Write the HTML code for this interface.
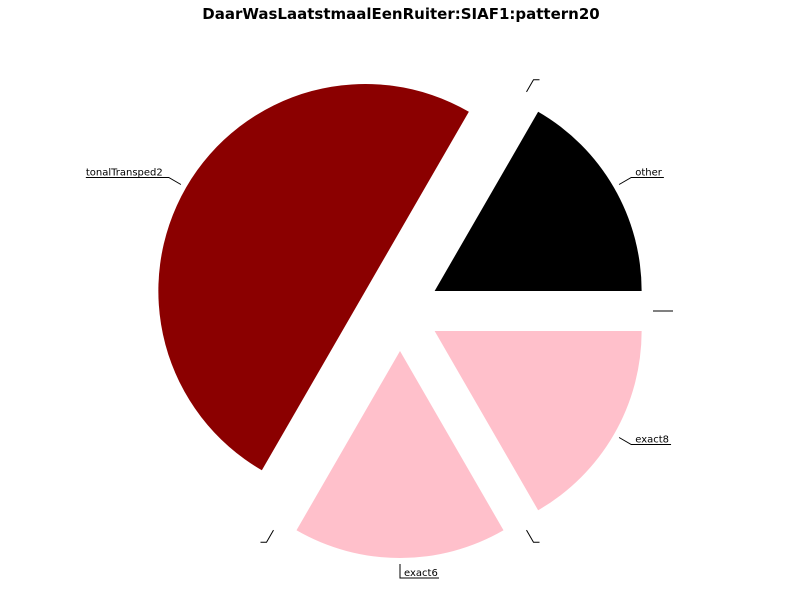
<!DOCTYPE html>
<html><head><meta charset="utf-8">
<style>
html,body{margin:0;padding:0;background:#fff;}
svg text{font-family:"DejaVu Sans","Liberation Sans",sans-serif;}
</style></head>
<body>
<svg id="chart" width="800" height="600" xmlns="http://www.w3.org/2000/svg">
<text x="401" y="19" text-anchor="middle" font-size="15" font-weight="bold">DaarWasLaatstmaalEenRuiter:SIAF1:pattern20</text>
<g id="slices"></g>
<g id="labels"></g>
</svg>
<script>
const sliceLabels = ["other", "", "tonalTransped2", "", "exact6", "", "exact8", ""];
const sliceValues = [1, 0, 3, 0, 1, 0, 1, 0];
const sliceColors = ["#000000", "#000000", "#8b0000", "#000000", "#ffc0cb", "#000000", "#ffc0cb", "#000000"];
const cx = 400, cy = 311, R = 207, EXPLODE = 40;
const NS = "http://www.w3.org/2000/svg";
const gS = document.getElementById("slices"), gL = document.getElementById("labels");
const total = sliceValues.reduce((a, b) => a + b, 0);
function pt(ox, oy, r, a) { return [ox + r * Math.cos(a), oy - r * Math.sin(a)]; }
let start = 0;
sliceValues.forEach((v, i) => {
  const sweep = v / total * 2 * Math.PI;
  const mid = start + sweep / 2;
  const ox = cx + EXPLODE * Math.cos(mid), oy = cy - EXPLODE * Math.sin(mid);
  if (v > 0) {
    const p1 = pt(ox, oy, R, start), p2 = pt(ox, oy, R, start + sweep);
    const large = sweep > Math.PI ? 1 : 0;
    const path = document.createElementNS(NS, "path");
    path.setAttribute("d", `M${ox},${oy} L${p1[0]},${p1[1]} A${R},${R} 0 ${large} 0 ${p2[0]},${p2[1]} Z`);
    path.setAttribute("fill", sliceColors[i]);
    
    
    gS.appendChild(path);
  }
  const a = pt(cx, cy, 253, mid), b = pt(cx, cy, 267, mid);
  const right = Math.cos(mid) > 1e-6 || Math.abs(mid - 1.5 * Math.PI) < 1e-6;
  let tw = 6;
  let t = null;
  if (sliceLabels[i]) {
    t = document.createElementNS(NS, "text");
    t.setAttribute("y", b[1] - 2);
    t.setAttribute("font-size", "10");
    t.textContent = sliceLabels[i];
    
    
    gL.appendChild(t);
    tw = t.getComputedTextLength() + 6;
    if (Math.abs(mid - 1.5 * Math.PI) < 1e-6) tw = 39;
    t.setAttribute("x", right ? b[0] + 4 : b[0] - tw);
  }
  const c = [b[0] + (right ? tw : -tw), b[1]];
  const pl = document.createElementNS(NS, "polyline");
  pl.setAttribute("points", `${a[0]},${a[1]} ${b[0]},${b[1]} ${c[0]},${c[1]}`);
  pl.setAttribute("fill", "none");
  pl.setAttribute("stroke", "#000");
  pl.setAttribute("stroke-width", "1");
  
  
  gL.appendChild(pl);
  start += sweep;
});
</script>
</body></html>
